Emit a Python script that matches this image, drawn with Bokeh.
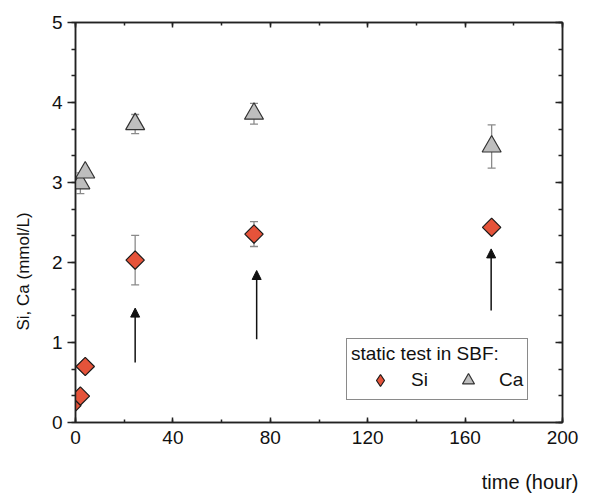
import numpy as np
from bokeh.plotting import figure
from bokeh.models import (ColumnDataSource, Whisker, TeeHead, Arrow, NormalHead, Legend,
                          LegendItem, LinearAxis, SingleIntervalTicker, Range1d, Title)
from bokeh.embed import file_html
from bokeh.resources import INLINE

# ---- data ----
si_time = [-1.5, 2, 4, 24.5, 73.3, 170.9]
si_conc = [0.21, 0.33, 0.70, 2.03, 2.355, 2.44]
si_err = [0.05, 0.05, 0.06, 0.31, 0.155, 0.05]

ca_time = [2, 4, 24.5, 73.3, 170.9]
ca_conc = [2.99, 3.125, 3.73, 3.86, 3.45]
ca_err = [0.13, 0.06, 0.12, 0.13, 0.27]

arrow_time = [24.5, 74.4, 170.7]
arrow_from = [0.75, 1.04, 1.40]
arrow_to = [1.43, 1.90, 2.17]

legend_title = "static test in SBF:"
series_names = ["Si", "Ca"]
x_label = "time (hour)"
y_label = "Si, Ca (mmol/L)"

FONT = "Liberation Sans"
AX = "#222222"
SI_FILL = "#E5533A"
CA_FILL = "#BEBEBE"
ERR = "#8a8a8a"

p = figure(frame_width=487, frame_height=400,
           min_border_left=75, min_border_top=22, min_border_right=21, min_border_bottom=78,
           x_range=Range1d(0, 200), y_range=Range1d(0, 5),
           output_backend="svg", toolbar_location=None, tools="")
p.xgrid.visible = False
p.ygrid.visible = False
p.outline_line_color = AX
p.outline_line_width = 1.5
p.background_fill_color = "white"
p.border_fill_color = "white"

xt = SingleIntervalTicker(interval=40, num_minor_ticks=2)
yt = SingleIntervalTicker(interval=1, num_minor_ticks=3)

xa = p.xaxis[0]
xa.ticker = xt
xa.major_tick_in = 5
xa.major_tick_out = 0
xa.minor_tick_in = 3
xa.minor_tick_out = 0
xa.major_label_standoff = 8

ya = p.yaxis[0]
ya.ticker = yt
ya.major_tick_in = 0
ya.major_tick_out = 8
ya.minor_tick_in = 0
ya.minor_tick_out = 4
ya.major_label_standoff = 5

for ax in (xa, ya):
    ax.axis_line_color = AX
    ax.axis_line_width = 1.5
    ax.major_tick_line_color = AX
    ax.major_tick_line_width = 1.5
    ax.minor_tick_line_color = AX
    ax.minor_tick_line_width = 1.5
    ax.major_label_text_font = FONT
    ax.major_label_text_font_size = "19px"
    ax.major_label_text_color = "#111111"

right = LinearAxis(ticker=yt, major_tick_in=7, major_tick_out=0, minor_tick_in=4, minor_tick_out=0,
                   major_label_text_color=None, axis_line_color=AX, axis_line_width=1.5,
                   major_tick_line_color=AX, minor_tick_line_color=AX,
                   major_tick_line_width=1.5, minor_tick_line_width=1.5, major_label_standoff=0)
p.add_layout(right, "right")
top = LinearAxis(ticker=xt, major_tick_in=5, major_tick_out=0, minor_tick_in=3, minor_tick_out=0,
                 major_label_text_color=None, axis_line_color=AX, axis_line_width=1.5,
                 major_tick_line_color=AX, minor_tick_line_color=AX,
                 major_tick_line_width=1.5, minor_tick_line_width=1.5, major_label_standoff=0)
p.add_layout(top, "above")

si_src = ColumnDataSource(dict(t=si_time, c=si_conc,
                               lo=[c - e for c, e in zip(si_conc, si_err)],
                               hi=[c + e for c, e in zip(si_conc, si_err)]))
ca_src = ColumnDataSource(dict(t=ca_time, c=ca_conc,
                               lo=[c - e for c, e in zip(ca_conc, ca_err)],
                               hi=[c + e for c, e in zip(ca_conc, ca_err)]))

for src in (si_src, ca_src):
    w = Whisker(source=src, base="t", upper="hi", lower="lo", dimension="height",
                line_color=ERR, line_width=1.3, level="underlay",
                upper_head=TeeHead(size=8, line_color=ERR, line_width=1.3),
                lower_head=TeeHead(size=8, line_color=ERR, line_width=1.3))
    p.add_layout(w)

r_si = p.scatter(x="t", y="c", source=si_src, marker="square", angle=np.pi / 4, size=13,
                 fill_color=SI_FILL, line_color="#1a1a1a", line_width=1.2)
r_ca = p.scatter(x="t", y="c", source=ca_src, marker="triangle", size=19,
                 fill_color=CA_FILL, line_color="#333333", line_width=1.2)

# legend swatch for Si (legend glyphs are never rotated, so use a diamond marker;
# size 0 keeps it invisible in the plot while the legend sizes it itself)
r_si_key = p.scatter(x="t", y="c", source=si_src, marker="diamond", size=0,
                     fill_color=SI_FILL, line_color="#1a1a1a", line_width=1.2)

arr_src = ColumnDataSource(dict(x=arrow_time, y0=arrow_from, y1=arrow_to))
p.add_layout(Arrow(source=arr_src, x_start="x", y_start="y0", x_end="x", y_end="y1",
                   line_color="#111111", line_width=1.5,
                   end=NormalHead(size=9, fill_color="#111111", line_color="#111111", line_width=1)))

legend = Legend(items=[LegendItem(label=series_names[0], renderers=[r_si_key]),
                       LegendItem(label=series_names[1], renderers=[r_ca])],
                title=legend_title, orientation="horizontal", location=(271, 22),
                glyph_width=58, glyph_height=30, label_standoff=2, spacing=8,
                padding=4, title_standoff=0, margin=0,
                border_line_color="#8a8a8a", border_line_width=1.3, border_line_alpha=1,
                background_fill_color="white", background_fill_alpha=1,
                label_text_font=FONT, label_text_font_size="19px", label_text_color="#111111",
                title_text_font=FONT, title_text_font_size="19px", title_text_font_style="normal",
                title_text_color="#111111")
p.add_layout(legend)

p.add_layout(Title(text=y_label, align="left", offset=92, vertical_align="top", standoff=27,
                   text_font=FONT, text_font_size="17px", text_font_style="normal",
                   text_color="#111111"), "left")
p.add_layout(Title(text=x_label, align="right", offset=-16, standoff=45,
                   text_font=FONT, text_font_size="20px", text_font_style="normal",
                   text_color="#111111"), "below")

open("out.html", "w").write(file_html(p, INLINE))
